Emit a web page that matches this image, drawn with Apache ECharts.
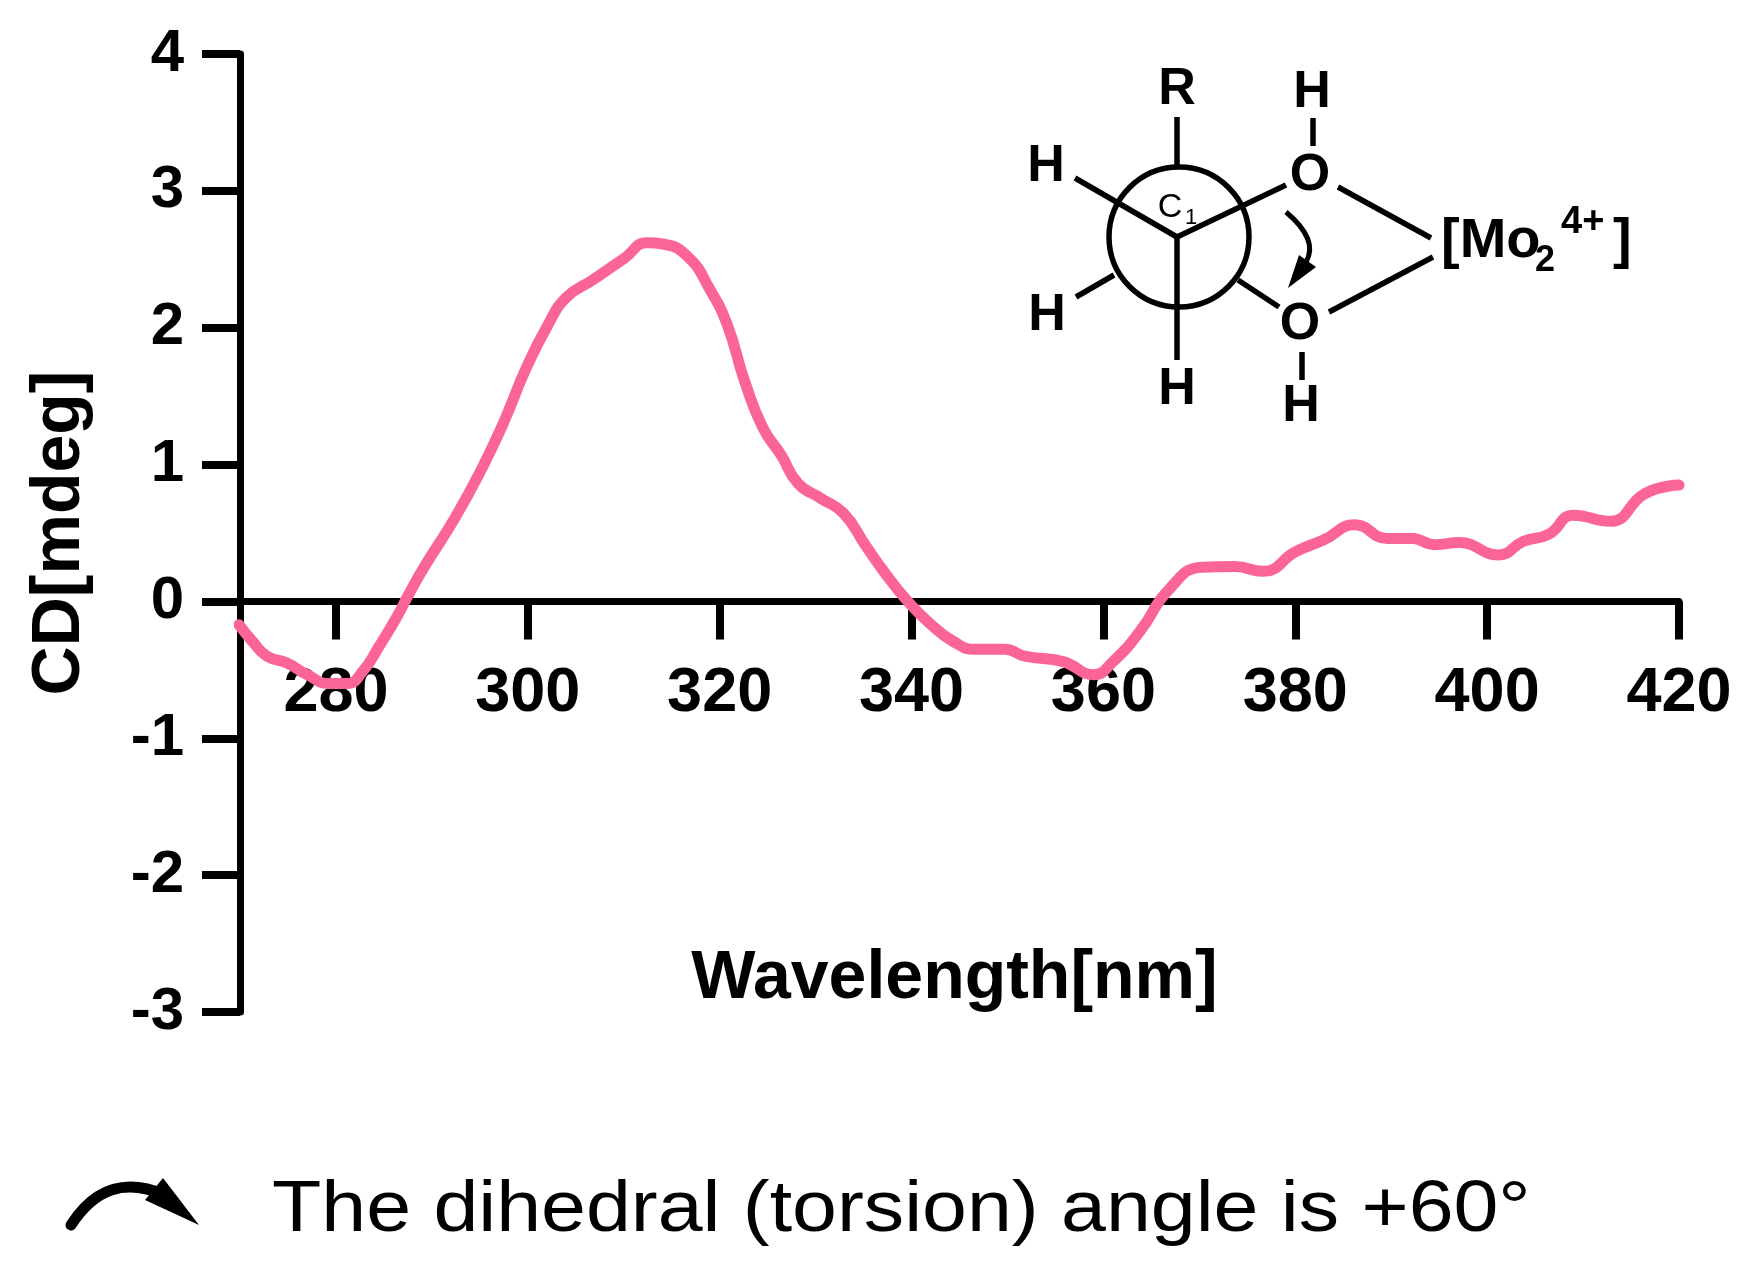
<!DOCTYPE html>
<html><head><meta charset="utf-8">
<script src="https://cdn.jsdelivr.net/npm/echarts@6/dist/echarts.min.js"></script>
<style>html,body{margin:0;padding:0;background:#fff}#c{width:1749px;height:1271px}</style>
</head><body><div id="c"></div>
<script>
const wavelength=[269.9,271.4,272.8,274.9,277,279.3,281.2,282.8,284.4,286.3,287.5,289.1,292.4,295.2,297.5,299.8,302.1,304,306.8,310.1,312.4,314.2,316.8,318.9,320.8,322.6,324.5,326.4,328.2,330.5,332.9,335.2,337.1,339.6,341.9,344.3,346.6,349.7,351.8,355.8,359,361,363.9,366.8,370.3,373.7,376.6,380.1,383,386.2,389.6,392.2,394.5,397.1,401.2,403.8,406.4,409,412.8,416.5,420];
const cd=[-0.17,-0.30,-0.40,-0.45,-0.535,-0.60,-0.60,-0.51,-0.34,-0.12,0.04,0.24,0.61,0.97,1.31,1.70,2.02,2.22,2.35,2.51,2.62,2.61,2.51,2.29,2.02,1.61,1.27,1.07,0.86,0.755,0.645,0.41,0.22,0,-0.16,-0.29,-0.35,-0.35,-0.40,-0.44,-0.535,-0.44,-0.21,0.085,0.25,0.255,0.22,0.365,0.45,0.56,0.46,0.46,0.415,0.43,0.34,0.44,0.49,0.63,0.585,0.79,0.85];
const xTicks=[280,300,320,340,360,380,400,420];
const xTitle='Wavelength[nm]', yTitle='CD[mdeg]';
const footnote='The dihedral (torsion) angle is +60°';
const F='"Liberation Sans",Arial,sans-serif';
const txt=(s,x,y,size,o={})=>({type:'text',z:10,style:Object.assign({text:s,x,y,font:`bold ${size}px ${F}`,fill:'#000',align:'center',verticalAlign:'middle'},o)});
const ln=(x1,y1,x2,y2,w=5.5)=>({type:'line',z:9,shape:{x1,y1,x2,y2},style:{stroke:'#000',lineWidth:w}});
const chart=echarts.init(document.getElementById('c'));
chart.setOption({
 animation:false,backgroundColor:'#fff',
 grid:{left:240,right:70,top:54,bottom:259,containLabel:false,outerBoundsMode:'none'},
 xAxis:{type:'value',min:270,max:420,splitLine:{show:false},
  name:xTitle,nameLocation:'middle',nameGap:-67,
  nameTextStyle:{fontFamily:F,fontWeight:'bold',fontSize:68,color:'#000',padding:[0,10,0,0]},
  axisLine:{onZero:true,lineStyle:{color:'#000',width:7}},
  axisTick:{customValues:xTicks,length:38,lineStyle:{color:'#000',width:8}},
  axisLabel:{customValues:xTicks,margin:-350,fontFamily:F,fontWeight:'bold',fontSize:63,color:'#000'}},
 yAxis:{type:'value',min:-3,max:4,interval:1,splitLine:{show:false},
  name:yTitle,nameLocation:'middle',nameGap:146,nameRotate:90,
  nameTextStyle:{fontFamily:F,fontWeight:'bold',fontSize:68,color:'#000'},
  axisLine:{onZero:false,lineStyle:{color:'#000',width:7}},
  axisTick:{length:38,lineStyle:{color:'#000',width:8}},
  axisLabel:{margin:56,fontFamily:F,fontWeight:'bold',fontSize:60,color:'#000'}},
 series:[{type:'line',data:wavelength.map((w,i)=>[w,cd[i]]),smooth:0.5,showSymbol:false,symbol:'none',z:5,
  lineStyle:{color:'#FB6496',width:11,cap:'round',join:'round'}}],
 graphic:{elements:[
  {type:'circle',z:9,shape:{cx:1179,cy:237,r:70},style:{fill:'none',stroke:'#000',lineWidth:5.5}},
  ln(1177,117,1177,167),ln(1177,237,1177,360),ln(1075,178,1177,237),ln(1177,237,1286,185),
  ln(1076,297,1114,275),ln(1238,280,1279,307),ln(1313,118,1313,146),ln(1302,352,1302,380),
  ln(1338,187,1431,238),ln(1329,312,1433,257),
  txt('R',1177,90,52),txt('H',1312,93,52),txt('O',1310,176,52),txt('H',1046,167,52),txt('H',1047,316,52),
  txt('O',1300,325,52),txt('H',1177,390,52),txt('H',1301,407,52),
  txt('C',1170,208,34,{font:`34px ${F}`}),txt('1',1191,218,22,{font:`22px ${F}`}),
  txt('[Mo',1441,242,56,{align:'left'}),txt('2',1535,261,36,{align:'left'}),txt('4+',1561,223,38,{align:'left'}),txt(']',1613,242,56,{align:'left'}),
  {type:'bezierCurve',z:9,shape:{x1:1286,y1:212,cpx1:1305,cpy1:228,cpx2:1316,cpy2:245,x2:1306,y2:262},style:{stroke:'#000',fill:'none',lineWidth:5}},
  {type:'polygon',z:9,shape:{points:[[1299,255],[1316,267],[1288,288]]},style:{fill:'#000'}},
  {type:'bezierCurve',z:9,shape:{x1:71,y1:1225,cpx1:95,cpy1:1188,cpx2:125,cpy2:1178,x2:165,y2:1195},style:{stroke:'#000',fill:'none',lineWidth:11,lineCap:'round'}},
  {type:'polygon',z:9,shape:{points:[[163,1178],[199,1225],[145,1200]]},style:{fill:'#000'}},
  {type:'text',z:10,x:272,y:1211,scaleX:1.105,style:{text:footnote,x:0,y:0,font:`73px ${F}`,fill:'#000',align:'left',verticalAlign:'middle'}}
 ]}
});
</script></body></html>
